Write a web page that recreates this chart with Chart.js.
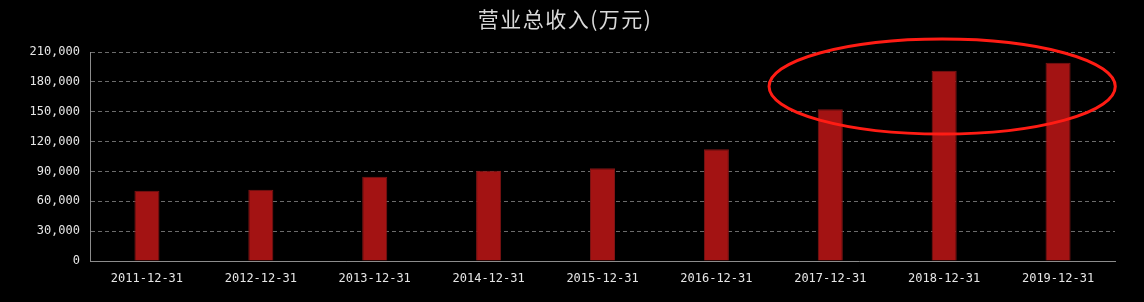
<!DOCTYPE html>
<html>
<head>
<meta charset="utf-8">
<script src="https://cdn.jsdelivr.net/npm/chart.js@4/dist/chart.umd.min.js"></script>
<style>
  html, body { margin: 0; padding: 0; background: #000; }
  #wrap { width: 1144px; height: 302px; }
</style>
</head>
<body>
<div id="wrap"><canvas id="grafico"></canvas></div>
<script>
const titulo = '营业总收入(万元)';
const fechas = ['2011-12-31', '2012-12-31', '2013-12-31', '2014-12-31', '2015-12-31',
  '2016-12-31', '2017-12-31', '2018-12-31', '2019-12-31'];
const ingresos = [70600, 71600, 84700, 90700, 93100, 112200, 152400, 191200, 199200];
const ticksY = [0, 30000, 60000, 90000, 120000, 150000, 180000, 210000];

const formatNum = (v) => v.toLocaleString('en-US');

// titulo + elipse roja (anotacion)
const extras = {
  id: 'extras',
  afterDraw(chart) {
    const ctx = chart.ctx;
    const x = chart.scales.x;
    const y = chart.scales.y;

    ctx.save();
    ctx.fillStyle = '#d9d9d9';
    ctx.font = '21px "Noto Sans CJK SC", sans-serif';
    ctx.letterSpacing = '1.5px';
    ctx.textAlign = 'center';
    ctx.textBaseline = 'middle';
    ctx.fillText(titulo, 565, 19);
    ctx.letterSpacing = '0px';

    const paso = x.getPixelForValue(1) - x.getPixelForValue(0);
    const cx = x.getPixelForValue(7) - 2;
    const top = y.getPixelForValue(223000);
    const bottom = y.getPixelForValue(127600);
    ctx.strokeStyle = '#ff1c14';
    ctx.lineWidth = 3;
    ctx.beginPath();
    ctx.ellipse(cx, (top + bottom) / 2, paso * 1.52, (bottom - top) / 2, 0, 0, Math.PI * 2);
    ctx.stroke();
    ctx.restore();
  }
};

new Chart(document.getElementById('grafico'), {
  type: 'bar',
  data: {
    labels: fechas,
    datasets: [{
      label: titulo,
      data: ingresos,
      backgroundColor: '#a31313',
      borderColor: '#7d1515',
      borderWidth: 1,
      barPercentage: 0.22,
      categoryPercentage: 1
    }]
  },
  options: {
    responsive: true,
    maintainAspectRatio: false,
    animation: false,
    layout: {
      padding: { top: 52, right: 29, bottom: 0, left: 0 }
    },
    plugins: {
      legend: { display: false },
      title: { display: false },
      tooltip: { enabled: false }
    },
    scales: {
      x: {
        grid: { display: false, drawTicks: false },
        border: { display: true, color: '#8c8c8c', width: 1 },
        ticks: {
          color: '#e6e6e6',
          padding: 11,
          maxRotation: 0,
          font: { family: '"DejaVu Sans Mono", monospace', size: 12 }
        },
        afterFit: (scale) => { scale.height = 41; }
      },
      y: {
        min: 0,
        max: 210000,
        afterBuildTicks: (scale) => { scale.ticks = ticksY.map(v => ({ value: v })); },
        grid: {
          color: '#6b6b6b',
          lineWidth: 1,
          drawTicks: false
        },
        border: { display: true, color: '#8c8c8c', width: 1, dash: [4, 3] },
        ticks: {
          color: '#e6e6e6',
          padding: 10,
          callback: (v) => formatNum(v),
          font: { family: '"DejaVu Sans Mono", monospace', size: 12 }
        },
        afterFit: (scale) => { scale.width = 90; }
      }
    }
  },
  plugins: [extras]
});
</script>
</body>
</html>
